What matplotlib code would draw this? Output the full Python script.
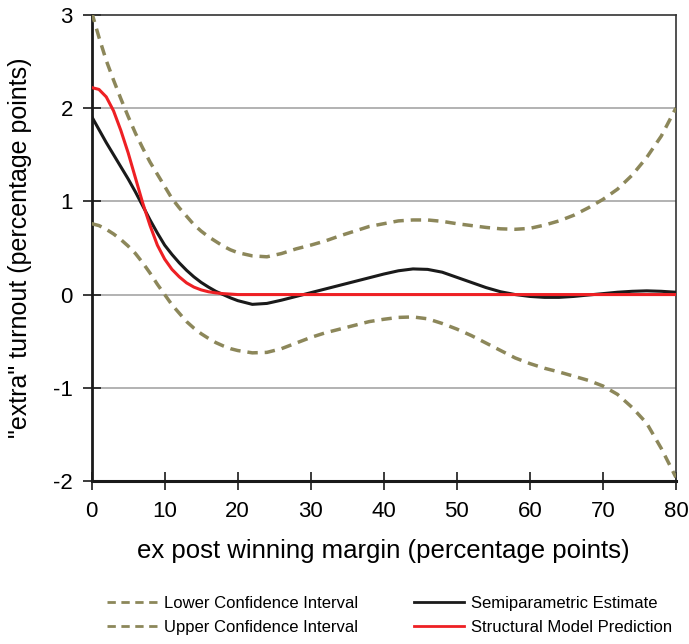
import numpy as np
import matplotlib
matplotlib.use("Agg")
import matplotlib.pyplot as plt

plt.rcParams['font.family'] = ['Liberation Sans', 'DejaVu Sans']
plt.rcParams['axes.unicode_minus'] = False

# ex post winning margin (percentage points)
margin = [0, 1, 2, 3, 4, 5, 6, 7, 8, 9, 10, 11, 12, 13, 14, 15, 16, 17, 18, 19, 20,
          22, 24, 26, 28, 30, 32, 34, 36, 38, 40, 42, 44, 46, 48, 50,
          52, 54, 56, 58, 60, 62, 64, 66, 68, 70, 72, 74, 76, 78, 80]

upper_ci = [3.03, 2.76, 2.51, 2.30, 2.10, 1.91, 1.73, 1.57, 1.42, 1.29, 1.16,
            1.03, 0.93, 0.84, 0.75, 0.68, 0.62, 0.57, 0.52, 0.48, 0.45,
            0.415, 0.405, 0.44, 0.49, 0.53, 0.575, 0.63, 0.68, 0.73, 0.76,
            0.79, 0.80, 0.80, 0.785, 0.76, 0.74, 0.72, 0.705, 0.70, 0.71,
            0.745, 0.79, 0.85, 0.93, 1.02, 1.13, 1.28, 1.47, 1.70, 2.00]

lower_ci = [0.76, 0.74, 0.70, 0.65, 0.59, 0.52, 0.44, 0.34, 0.23, 0.11, 0.0,
            -0.11, -0.20, -0.29, -0.36, -0.42, -0.47, -0.515, -0.55, -0.58, -0.60,
            -0.625, -0.62, -0.58, -0.52, -0.46, -0.41, -0.37, -0.33, -0.29, -0.265,
            -0.245, -0.24, -0.26, -0.31, -0.37, -0.44, -0.52, -0.60, -0.68, -0.74,
            -0.79, -0.83, -0.875, -0.92, -0.98, -1.07, -1.21, -1.38, -1.65, -1.96]

semiparam = [1.91, 1.77, 1.63, 1.50, 1.37, 1.24, 1.10, 0.95, 0.80, 0.66, 0.53,
             0.43, 0.34, 0.26, 0.19, 0.13, 0.08, 0.035, 0.0, -0.035, -0.065,
             -0.105, -0.095, -0.06, -0.02, 0.02, 0.06, 0.10, 0.14, 0.18, 0.22,
             0.255, 0.275, 0.27, 0.24, 0.185, 0.13, 0.075, 0.03, 0.0, -0.02,
             -0.03, -0.03, -0.02, -0.005, 0.01, 0.025, 0.035, 0.04, 0.035, 0.025]

structural = [2.22, 2.20, 2.12, 1.97, 1.76, 1.52, 1.25, 0.98, 0.74, 0.53, 0.38,
              0.27, 0.19, 0.125, 0.08, 0.05, 0.03, 0.018, 0.01, 0.005, 0.0,
              0, 0, 0, 0, 0, 0, 0, 0, 0, 0, 0, 0, 0, 0, 0,
              0, 0, 0, 0, 0, 0, 0, 0, 0, 0, 0, 0, 0, 0, 0]

ci_color = '#8c875a'

fig = plt.figure(figsize=(6.89, 6.44), dpi=100)
ax = fig.add_axes([0.133, 0.253, 0.848, 0.724])

# grid lines
for yv in [-1, 0, 1, 2]:
    ax.axhline(yv, color='#a6a6a6', lw=1.2, zorder=1)

ax.plot(margin, lower_ci, color=ci_color, lw=2.5, ls=(0, (3, 2)), label='Lower Confidence Interval', zorder=3)
ax.plot(margin, upper_ci, color=ci_color, lw=2.5, ls=(0, (3, 2)), label='Upper Confidence Interval', zorder=3)
ax.plot(margin, semiparam, color='#1a1a1a', lw=2.2, label='Semiparametric Estimate', zorder=4)
ax.plot(margin, structural, color='#ee2024', lw=2.2, label='Structural Model Prediction', zorder=5)

ax.set_xlim(0, 80)
ax.set_ylim(-2, 3)
ax.set_xticks(range(0, 81, 10))
ax.set_yticks(range(-2, 4))

ax.spines['left'].set_linewidth(2)
ax.spines['bottom'].set_linewidth(2.2)
ax.spines['top'].set_linewidth(1.2)
ax.spines['right'].set_linewidth(1.2)
for s in ['left', 'bottom']:
    ax.spines[s].set_color('#1a1a1a')
for s in ['top', 'right']:
    ax.spines[s].set_color('#333333')

ax.tick_params(axis='both', direction='inout', length=13, width=1.2,
               color='#1a1a1a', labelsize=16, pad=8)
ax.tick_params(axis='y', pad=7)

ax.set_xlabel('ex post winning margin (percentage points)', fontsize=18.5, labelpad=12)
ax.set_ylabel('"extra" turnout (percentage points)', fontsize=18, labelpad=15)

leg = ax.legend(loc='upper center', bbox_to_anchor=(0.51, -0.215), ncol=2, frameon=False,
                fontsize=12, handlelength=3.0, handletextpad=0.4, columnspacing=3.4,
                labelspacing=0.5)
for line in leg.get_lines():
    line.set_linewidth(2.0)

fig.savefig('out.png', dpi=100)
